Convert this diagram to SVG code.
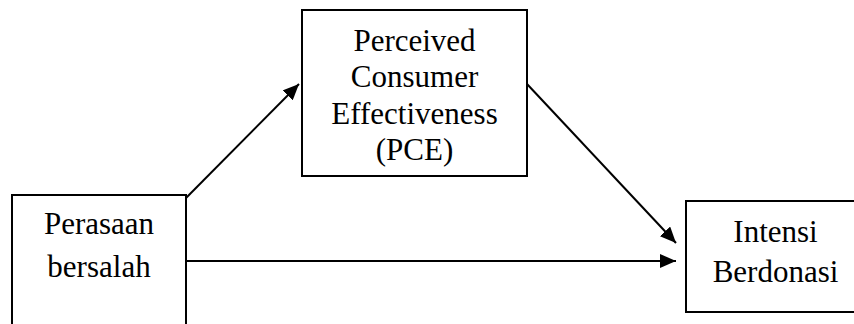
<svg xmlns="http://www.w3.org/2000/svg" width="854" height="324" viewBox="0 0 854 324">
<style>
.box{fill:#fff;stroke:#000;stroke-width:2}
.lbl{font-family:"Liberation Serif","Times New Roman",serif;font-size:31px;fill:#000;text-anchor:middle}
.edge{stroke:#000;stroke-width:2;fill:none;marker-end:url(#arr)}
</style>
<defs>
<marker id="arr" markerUnits="userSpaceOnUse" markerWidth="16" markerHeight="14" refX="16" refY="7" orient="auto" viewBox="0 0 16 14">
<path d="M0,0 L16,7 L0,14 z" fill="#000"/>
</marker>
</defs>
<rect width="854" height="324" fill="#fff"/>
<g id="connectors">
<line class="edge" x1="186" y1="198" x2="299" y2="84"/>
<line class="edge" x1="527" y1="84" x2="676" y2="243"/>
<line class="edge" x1="186" y1="261" x2="676" y2="261"/>
</g>
<g id="perasaan">
<rect class="box" x="12" y="195" width="174" height="140"/>
<text class="lbl" x="99" y="234">Perasaan</text>
<text class="lbl" x="99" y="277">bersalah</text>
</g>
<g id="pce">
<rect class="box" x="302" y="10" width="225" height="166"/>
<text class="lbl" x="414.5" y="50.5">Perceived</text>
<text class="lbl" x="414.5" y="87">Consumer</text>
<text class="lbl" x="414.5" y="123.5">Effectiveness</text>
<text class="lbl" x="414.5" y="160">(PCE)</text>
</g>
<g id="intensi">
<rect class="box" x="686" y="201" width="180" height="111"/>
<text class="lbl" x="775.5" y="241.5">Intensi</text>
<text class="lbl" x="775.5" y="281.5">Berdonasi</text>
</g>
</svg>
